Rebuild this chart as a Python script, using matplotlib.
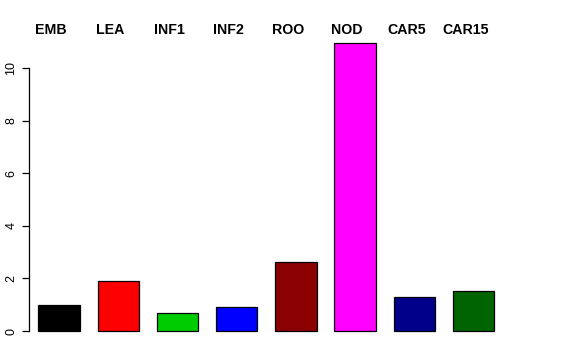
import matplotlib
matplotlib.use("Agg")
import matplotlib.pyplot as plt

tissues = ["EMB", "LEA", "INF1", "INF2", "ROO", "NOD", "CAR5", "CAR15"]
values = [0.97, 1.90, 0.68, 0.91, 2.62, 10.95, 1.29, 1.52]
colors = ["#000000", "#FF0000", "#00CD00", "#0000FF",
          "#8B0000", "#FF00FF", "#00008B", "#006400"]
yticks = [0, 2, 4, 6, 8, 10]

plt.rcParams["font.family"] = ["Liberation Sans", "DejaVu Sans"]

fig = plt.figure(figsize=(5.76, 3.6), dpi=100)
# axes placed in pixel terms: left 29, right 560, bottom 340, top 30
ax = fig.add_axes([29 / 576, 20 / 360, 531 / 576, 310 / 360])

pos = list(range(len(tissues)))
ax.bar(pos, values, width=0.70, color=colors, edgecolor="black", linewidth=0.9)

ax.set_xlim(-0.507, 8.46)
ax.set_ylim(-0.342, 11.445)

for i, name in enumerate(tissues):
    ax.text(i - 0.135, 11.45, name, ha="center", va="center",
            fontsize=10.2, fontweight="bold", clip_on=False)

ax.set_yticks(yticks)
ax.set_yticklabels([str(t) for t in yticks], rotation=90, va="center", fontsize=9)
ax.tick_params(axis="y", length=5, width=0.9, pad=3.5)
ax.set_xticks([])
for side in ["top", "right", "bottom"]:
    ax.spines[side].set_visible(False)
ax.spines["left"].set_bounds(0, 10)
ax.spines["left"].set_linewidth(0.9)

fig.savefig("out.png", dpi=100)
